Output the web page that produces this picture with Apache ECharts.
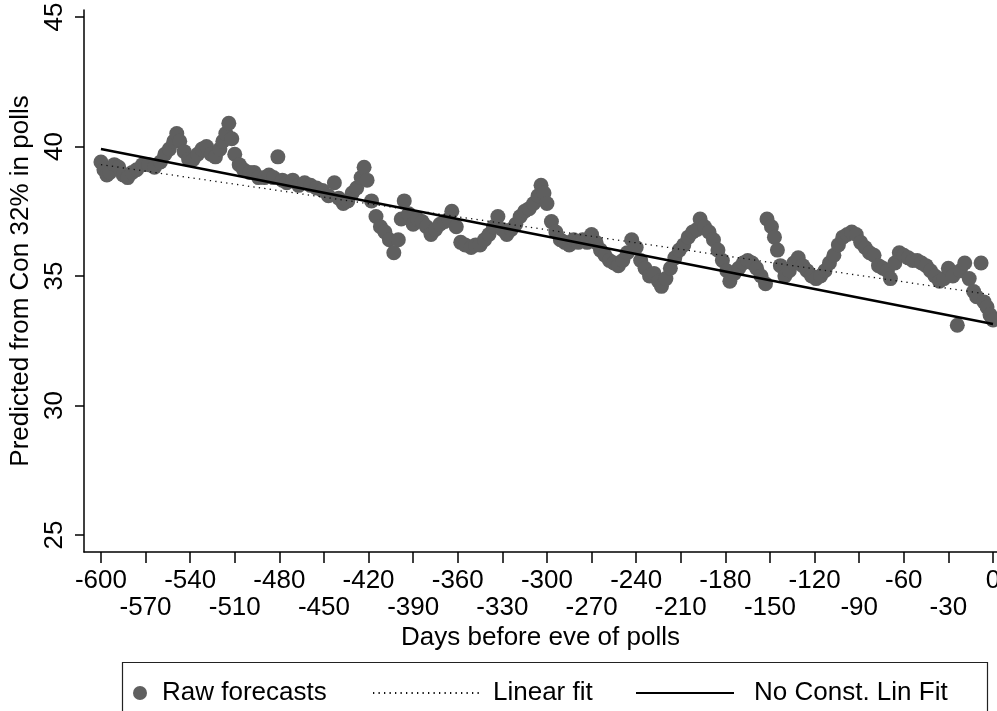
<!DOCTYPE html>
<html>
<head>
<meta charset="utf-8">
<script src="https://cdn.jsdelivr.net/npm/echarts@6/dist/echarts.min.js"></script>
<style>
  html, body { margin: 0; padding: 0; background: #fff; }
  #chart { width: 997px; height: 711px; }
</style>
</head>
<body>
<div id="chart"></div>
<script>
// raw forecasts (day, predicted %)
const days = [
  -600, -598, -596, -594, -591, -588, -585, -582, -579, -576, -572, -568, -564, -560, -557, -554,
  -551, -549, -547, -544, -541, -538, -535, -532, -529, -526, -523, -520, -518, -516, -514, -512,
  -510, -507, -504, -500, -497, -494, -490, -487, -484, -481, -478, -475, -471, -467, -463, -459,
  -455, -451, -447, -443, -440, -437, -434, -431, -428, -425, -423, -421, -418, -415, -412, -409,
  -406, -403, -400, -398, -396, -393, -390, -387, -384, -381, -378, -375, -372, -369, -366, -364,
  -361, -358, -355, -351, -348, -345, -342, -339, -336, -333, -330, -327, -324, -321, -318, -315,
  -312, -309, -306, -304, -302, -300, -297, -294, -291, -288, -285, -282, -279, -276, -273, -270,
  -267, -264, -261, -258, -255, -252, -249, -246, -243, -240, -237, -234, -231, -228, -225, -223,
  -220, -217, -214, -211, -208, -205, -202, -199, -197, -194, -191, -188, -185, -182, -179, -177,
  -174, -171, -168, -165, -162, -159, -156, -153, -152, -149, -147, -145, -143, -140, -137, -134,
  -131, -128, -125, -122, -119, -116, -113, -110, -107, -104, -101, -98, -95, -92, -89, -86,
  -83, -80, -77, -74, -71, -69, -66, -63, -60, -57, -54, -51, -48, -45, -42, -39,
  -36, -33, -30, -27, -24, -22, -19, -16, -13, -11, -8, -6, -4, -2, 0
];
const forecasts = [
  39.4, 39.1, 38.9, 39.0, 39.3, 39.2, 38.9, 38.8, 39.0, 39.1, 39.3, 39.3, 39.2, 39.4, 39.7, 39.9,
  40.2, 40.5, 40.2, 39.8, 39.5, 39.5, 39.7, 39.9, 40.0, 39.7, 39.6, 39.9, 40.2, 40.5, 40.9, 40.3,
  39.7, 39.3, 39.1, 39.0, 39.0, 38.8, 38.8, 38.9, 38.8, 39.6, 38.7, 38.6, 38.7, 38.5, 38.6, 38.5,
  38.4, 38.3, 38.1, 38.6, 38.0, 37.8, 37.9, 38.2, 38.4, 38.8, 39.2, 38.7, 37.9, 37.3, 36.9, 36.7,
  36.4, 35.9, 36.4, 37.2, 37.9, 37.4, 37.0, 37.2, 37.1, 36.9, 36.6, 36.8, 37.0, 37.1, 37.2, 37.5,
  36.9, 36.3, 36.2, 36.1, 36.2, 36.2, 36.4, 36.6, 36.9, 37.3, 36.8, 36.6, 36.8, 37.0, 37.3, 37.5,
  37.6, 37.8, 38.1, 38.5, 38.2, 37.8, 37.1, 36.7, 36.4, 36.3, 36.2, 36.4, 36.3, 36.4, 36.3, 36.6,
  36.3, 36.0, 35.8, 35.6, 35.5, 35.4, 35.6, 35.9, 36.4, 36.1, 35.6, 35.3, 35.0, 35.1, 34.8, 34.6,
  34.9, 35.3, 35.7, 36.0, 36.2, 36.5, 36.7, 36.8, 37.2, 36.9, 36.7, 36.4, 36.0, 35.6, 35.2, 34.8,
  35.1, 35.3, 35.5, 35.6, 35.5, 35.3, 35.0, 34.7, 37.2, 36.9, 36.5, 36.0, 35.4, 35.0, 35.2, 35.5,
  35.7, 35.4, 35.2, 35.0, 34.9, 35.0, 35.2, 35.5, 35.8, 36.2, 36.5, 36.6, 36.7, 36.6, 36.3, 36.1,
  35.9, 35.8, 35.4, 35.3, 35.2, 34.9, 35.5, 35.9, 35.8, 35.7, 35.6, 35.6, 35.5, 35.4, 35.2, 35.0,
  34.8, 34.9, 35.3, 35.0, 33.1, 35.2, 35.5, 34.9, 34.4, 34.2, 35.5, 34.0, 33.8, 33.5, 33.3
];

// fitted lines, end points
const fitDays = [-600, 0];
const linearFit = [39.3, 34.27];
const noConstFit = [39.9, 33.15];

// tick labels: upper row and staggered lower row
const xTicks = [-600, -570, -540, -510, -480, -450, -420, -390, -360, -330, -300, -270,
  -240, -210, -180, -150, -120, -90, -60, -30, 0];
const xLabelsTop = [-600, -540, -480, -420, -360, -300, -240, -180, -120, -60, 0];
const xLabelsLow = [-570, -510, -450, -390, -330, -270, -210, -150, -90, -30];
const yTicks = [25, 30, 35, 40, 45];

const seriesNames = ['Raw forecasts', 'Linear fit', 'No Const. Lin Fit'];

const FONT = '"Liberation Sans", Arial, Helvetica, sans-serif';
const FS = 26;
const INK = '#000';
const DOT = '#5f5f5f';

let chart = echarts.init(document.getElementById('chart'), null, { renderer: 'canvas' });

const zip = (xs, ys) => xs.map((x, i) => [x, ys[i]]);

const X_MIN = -611.4, X_MAX = 2.7;
const labelStyle = {
  fontSize: FS, color: INK, fontFamily: FONT,
  showMinLabel: true, showMaxLabel: true, hideOverlap: false
};

let option = {
  animation: false,
  backgroundColor: '#fff',
  textStyle: { fontFamily: FONT },
  grid: { left: 84, right: 0, top: 10, bottom: 159, containLabel: false, outerBoundsMode: 'none' },
  xAxis: [
    {
      type: 'value',
      min: X_MIN,
      max: X_MAX,
      name: 'Days before eve of polls',
      nameLocation: 'middle',
      nameGap: 73,
      nameTextStyle: { fontSize: FS, color: INK, fontFamily: FONT },
      splitLine: { show: false },
      axisLine: { show: true, onZero: false, lineStyle: { color: INK, width: 1.5 } },
      axisTick: { show: true, length: 11, lineStyle: { color: INK, width: 1.5 }, customValues: xTicks },
      axisLabel: Object.assign({ customValues: xLabelsTop, margin: 16 }, labelStyle)
    },
    {
      type: 'value',
      position: 'bottom',
      min: X_MIN,
      max: X_MAX,
      splitLine: { show: false },
      axisLine: { show: false, onZero: false },
      axisTick: { show: false },
      axisLabel: Object.assign({ customValues: xLabelsLow, margin: 43 }, labelStyle)
    }
  ],
  yAxis: {
    type: 'value',
    min: 24.344,
    max: 45.27,
    name: 'Predicted from Con 32% in polls',
    nameLocation: 'middle',
    nameGap: 45,
    nameTextStyle: { fontSize: FS, color: INK, fontFamily: FONT },
    splitLine: { show: false },
    axisLine: { show: true, onZero: false, lineStyle: { color: INK, width: 1.5 } },
    axisTick: { show: true, length: 9, lineStyle: { color: INK, width: 1.5 }, customValues: yTicks },
    axisLabel: {
      customValues: yTicks,
      rotate: 90,
      fontSize: FS,
      color: INK,
      fontFamily: FONT,
      margin: 16
    }
  },
  legend: [
    {
      data: [seriesNames[0]],
      left: 133, top: 680, padding: 0,
      itemWidth: 14, itemHeight: 14,
      textStyle: { fontSize: FS, color: INK, fontFamily: FONT, padding: [0, 0, 0, 10] }
    },
    {
      data: [seriesNames[1]],
      left: 372, top: 680, padding: 0,
      itemWidth: 106, itemHeight: 14,
      itemStyle: { opacity: 0 },
      textStyle: { fontSize: FS, color: INK, fontFamily: FONT, padding: [0, 0, 0, 9] }
    },
    {
      data: [seriesNames[2]],
      left: 635, top: 680, padding: 0,
      itemWidth: 98, itemHeight: 14,
      itemStyle: { opacity: 0 },
      textStyle: { fontSize: FS, color: INK, fontFamily: FONT, padding: [0, 0, 0, 15] }
    }
  ],
  graphic: [
    {
      type: 'rect',
      silent: true,
      shape: { x: 122.5, y: 662.5, width: 865, height: 60 },
      style: { fill: 'none', stroke: '#222', lineWidth: 1.2 }
    }
  ],
  series: [
    {
      name: seriesNames[0],
      type: 'scatter',
      symbol: 'circle',
      symbolSize: 15,
      itemStyle: { color: DOT, opacity: 1 },
      data: zip(days, forecasts),
      z: 2
    },
    {
      name: seriesNames[1],
      type: 'line',
      symbol: 'none',
      itemStyle: { color: '#111' },
      lineStyle: { color: '#111', width: 1.3, type: [1.3, 4.2] },
      data: zip(fitDays, linearFit),
      z: 3
    },
    {
      name: seriesNames[2],
      type: 'line',
      symbol: 'none',
      itemStyle: { color: INK },
      lineStyle: { color: INK, width: 2.6, type: 'solid' },
      data: zip(fitDays, noConstFit),
      z: 4
    }
  ]
};

chart.setOption(option, true);
</script>
</body>
</html>
